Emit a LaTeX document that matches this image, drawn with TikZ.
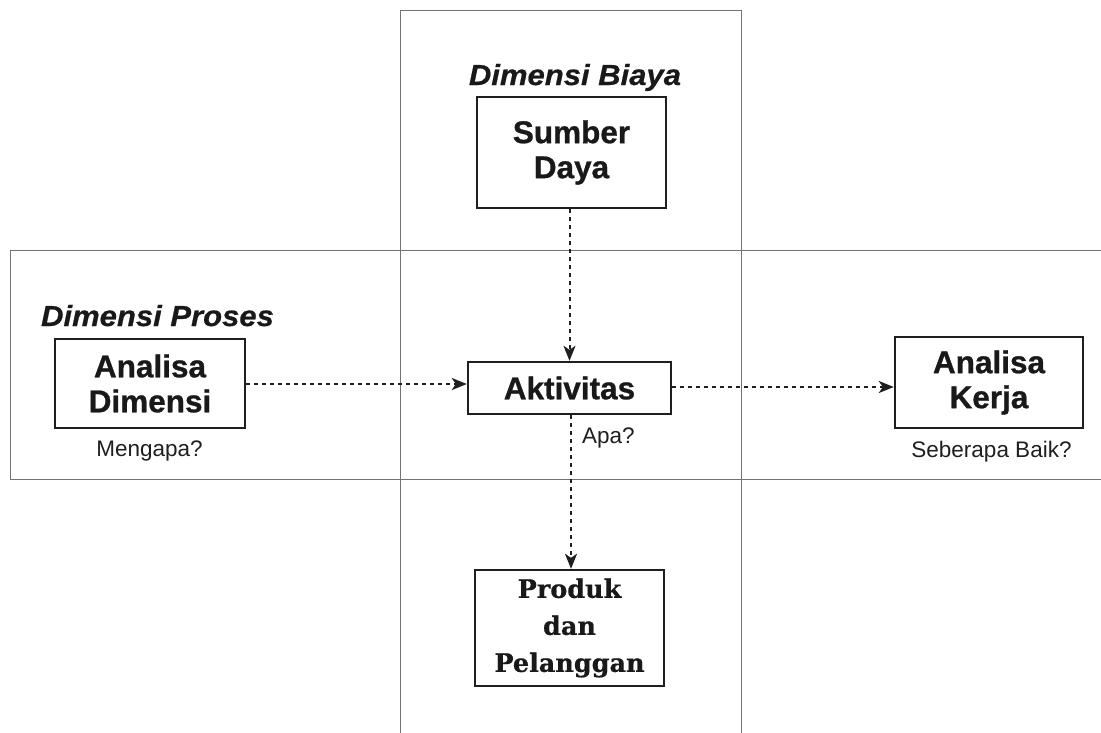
\documentclass[tikz,border=0pt]{standalone}
\usepackage{fontspec}
\setmainfont{Liberation Sans}
\newfontfamily\headfont[FakeStretch=1.07,FakeBold=0.6]{Liberation Sans}
\newfontfamily\boxfont[FakeBold=0.8]{Liberation Sans}
\newfontfamily\serifbold[FakeBold=0.6]{DejaVu Serif}
\usetikzlibrary{arrows.meta}
\begin{document}
\begin{tikzpicture}[x=1pt,y=-1pt,
  strip/.style={draw=black!55,line width=1pt},
  box/.style={draw=black!88,line width=2.4pt,inner sep=0pt,align=center,
    font=\boxfont\fontsize{31.5}{35}\selectfont\bfseries,text=black!90},
  heading/.style={anchor=base,inner sep=0pt,
    font=\headfont\fontsize{29}{30}\selectfont\bfseries\itshape,text=black!90},
  note/.style={anchor=base,inner sep=0pt,font=\fontsize{22.5}{25}\selectfont,text=black!88},
  flow/.style={draw=black!88,line width=2pt,dash pattern=on 3.5pt off 4.5pt,
    -{Stealth[length=15pt,width=12pt,inset=4pt]}}]
\useasboundingbox (0,0) rectangle (1101,732);
\fill[white] (0,0) rectangle (1101,732);
% strips
\draw[strip] (400,10) rectangle (741,745);
\draw[strip] (10,250) rectangle (1115,479);
% boxes
\node[box,minimum width=189pt,minimum height=111pt] (sd) at (571.5,152.5) {Sumber\\Daya};
\node[box,minimum width=190pt,minimum height=89pt] (ad) at (150,383.5) {Analisa\\Dimensi};
\node[box,minimum width=203pt,minimum height=52pt] (ak) at (569.5,388) {Aktivitas};
\node[box,minimum width=188pt,minimum height=91pt] (akj) at (989,382.5) {Analisa\\Kerja};
\node[box,minimum width=189pt,minimum height=116pt,
  font=\serifbold\fontsize{25.5}{37}\selectfont\bfseries] (pp) at (569.5,628) {Produk\\dan\\Pelanggan};
% headings and notes
\node[heading] (hb) at (575,85) {Dimensi Biaya};
\node[heading] (hp) at (157.5,326) {Dimensi Proses};
\node[note] (n1) at (149.5,456.5) {Mengapa?};
\node[note,anchor=base west] (n2) at (582,443) {Apa?};
\node[note] (n3) at (991.5,457) {Seberapa Baik?};
% connectors
\draw[flow] (sd.south -| ak.north) -- (ak.north);
\draw[flow] (ad.east |- 0,384) -- (ak.west |- 0,384);
\draw[flow] (ak.east |- 0,387) -- (akj.west |- 0,387);
\draw[flow] (ak.south -| 571,0) -- (pp.north -| 571,0);
\end{tikzpicture}
\end{document}
